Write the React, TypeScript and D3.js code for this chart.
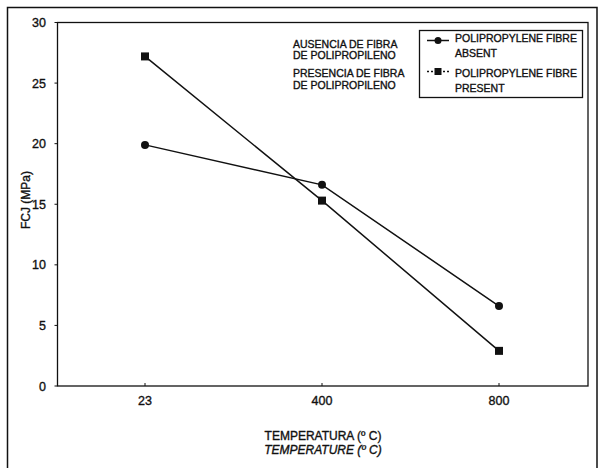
import React, { useRef, useEffect } from 'react';
import * as d3 from 'd3';

// Chart data
const temperatures = ['23', '400', '800'];
const fibreAbsent = [19.9, 16.6, 6.6];
const fibrePresent = [27.2, 15.3, 2.9];
const yTicks = [0, 5, 10, 15, 20, 25, 30];

const spanishLegend = ['AUSENCIA DE FIBRA', 'DE POLIPROPILENO', 'PRESENCIA DE  FIBRA', 'DE POLIPROPILENO'];
const absentLabel = ['POLIPROPYLENE FIBRE', 'ABSENT'];
const presentLabel = ['POLIPROPYLENE FIBRE', 'PRESENT'];

const FONT = '"Liberation Sans", Arial, sans-serif';

const App: React.FC = () => {
  const chartRef = useRef<SVGSVGElement | null>(null);
  const width = 600;
  const height = 468;

  useEffect(() => {
    if (!chartRef.current) return;
    const svg = d3.select(chartRef.current);
    svg.selectAll('*').remove();

    // Plot box
    const left = 57.5;
    const right = 588;
    const top = 22.5;
    const bottom = 386;

    const x = d3.scalePoint<string>()
      .domain(temperatures)
      .range([145, 499]);

    const y = d3.scaleLinear()
      .domain([0, 30])
      .range([bottom, top]);

    // scanned text looks a bit heavy, fake it with a thin stroke
    const label = (g: d3.Selection<any, unknown, null, undefined>, size: string) =>
      g.append('text')
        .attr('font-family', FONT)
        .attr('font-size', size)
        .attr('fill', '#111')
        .attr('stroke', '#111')
        .attr('stroke-width', 0.35);

    svg.append('rect')
      .attr('width', width)
      .attr('height', height)
      .attr('fill', '#fff');

    // outer frame
    svg.append('rect')
      .attr('x', 7.5)
      .attr('y', 7.5)
      .attr('width', 589.5)
      .attr('height', 475)
      .attr('fill', 'none')
      .attr('stroke', '#111')
      .attr('stroke-width', 1.5);

    // plot frame
    svg.append('rect')
      .attr('x', left)
      .attr('y', top)
      .attr('width', right - left)
      .attr('height', bottom - top)
      .attr('fill', 'none')
      .attr('stroke', '#111')
      .attr('stroke-width', 1.3);

    // y ticks + labels
    const yAxis = svg.append('g');
    yTicks.forEach(t => {
      yAxis.append('line')
        .attr('x1', left - 3)
        .attr('x2', left)
        .attr('y1', y(t))
        .attr('y2', y(t))
        .attr('stroke', '#111');
      label(yAxis, '12.5px')
        .attr('x', 46)
        .attr('y', y(t) + 4.5)
        .attr('text-anchor', 'end')
        .text(t);
    });

    // x ticks + labels
    const xAxis = svg.append('g');
    temperatures.forEach(c => {
      const px = x(c) as number;
      xAxis.append('line')
        .attr('x1', px)
        .attr('x2', px)
        .attr('y1', bottom)
        .attr('y2', bottom - 3)
        .attr('stroke', '#111');
      label(xAxis, '12.5px')
        .attr('x', px)
        .attr('y', 405)
        .attr('text-anchor', 'middle')
        .text(c);
    });

    // axis titles
    label(svg as any, '12px')
      .attr('transform', 'translate(30,200) rotate(-90)')
      .attr('text-anchor', 'middle')
      .text('FCJ (MPa)');

    label(svg as any, '12px')
      .attr('x', 323)
      .attr('y', 440)
      .attr('text-anchor', 'middle')
      .text('TEMPERATURA (\u00BA C)');

    label(svg as any, '12px')
      .attr('x', 323)
      .attr('y', 454)
      .attr('text-anchor', 'middle')
      .attr('font-style', 'italic')
      .text('TEMPERATURE (\u00BA C)');

    // series
    const line = d3.line<number>()
      .x((_, i) => x(temperatures[i]) as number)
      .y(d => y(d));

    const series = svg.append('g');
    [fibreAbsent, fibrePresent].forEach(vals => {
      series.append('path')
        .attr('d', line(vals) as string)
        .attr('fill', 'none')
        .attr('stroke', '#111')
        .attr('stroke-width', 1.5);
    });

    series.selectAll('.absent')
      .data(fibreAbsent)
      .enter()
      .append('circle')
      .attr('class', 'absent')
      .attr('cx', (_, i) => x(temperatures[i]) as number)
      .attr('cy', d => y(d))
      .attr('r', 4)
      .attr('fill', '#111');

    series.selectAll('.present')
      .data(fibrePresent)
      .enter()
      .append('rect')
      .attr('class', 'present')
      .attr('x', (_, i) => (x(temperatures[i]) as number) - 4)
      .attr('y', d => y(d) - 4)
      .attr('width', 8)
      .attr('height', 8)
      .attr('fill', '#111');

    // Spanish legend text
    const spanish = svg.append('g');
    [48, 59, 77, 89].forEach((ty, i) => {
      label(spanish, '10.5px')
        .attr('x', 293)
        .attr('y', ty)
        .text(spanishLegend[i]);
    });

    // Legend box
    const legend = svg.append('g');
    legend.append('rect')
      .attr('x', 419.5)
      .attr('y', 30.5)
      .attr('width', 163)
      .attr('height', 67)
      .attr('fill', '#fff')
      .attr('stroke', '#111')
      .attr('stroke-width', 1.3);

    legend.append('line')
      .attr('x1', 427).attr('x2', 449)
      .attr('y1', 40.5).attr('y2', 40.5)
      .attr('stroke', '#111').attr('stroke-width', 1.5);
    legend.append('circle')
      .attr('cx', 438).attr('cy', 40.5).attr('r', 3.5)
      .attr('fill', '#111');

    legend.append('line')
      .attr('x1', 427).attr('x2', 449)
      .attr('y1', 71.5).attr('y2', 71.5)
      .attr('stroke', '#111').attr('stroke-width', 1.5)
      .attr('stroke-dasharray', '2,2');
    legend.append('rect')
      .attr('x', 434.5).attr('y', 68).attr('width', 7).attr('height', 7)
      .attr('fill', '#111');

    [[absentLabel, 42, 57], [presentLabel, 77, 92]].forEach(([lbl, y1, y2]) => {
      const l = lbl as string[];
      label(legend, '10.5px')
        .attr('x', 455).attr('y', y1 as number)
        .text(l[0]);
      label(legend, '10.5px')
        .attr('x', 455).attr('y', y2 as number)
        .text(l[1]);
    });
  }, []);

  return (
    <svg
      ref={chartRef}
      width={width}
      height={height}
      style={{ position: 'absolute', left: 0, top: 0 }}
    />
  );
};

export default App;
